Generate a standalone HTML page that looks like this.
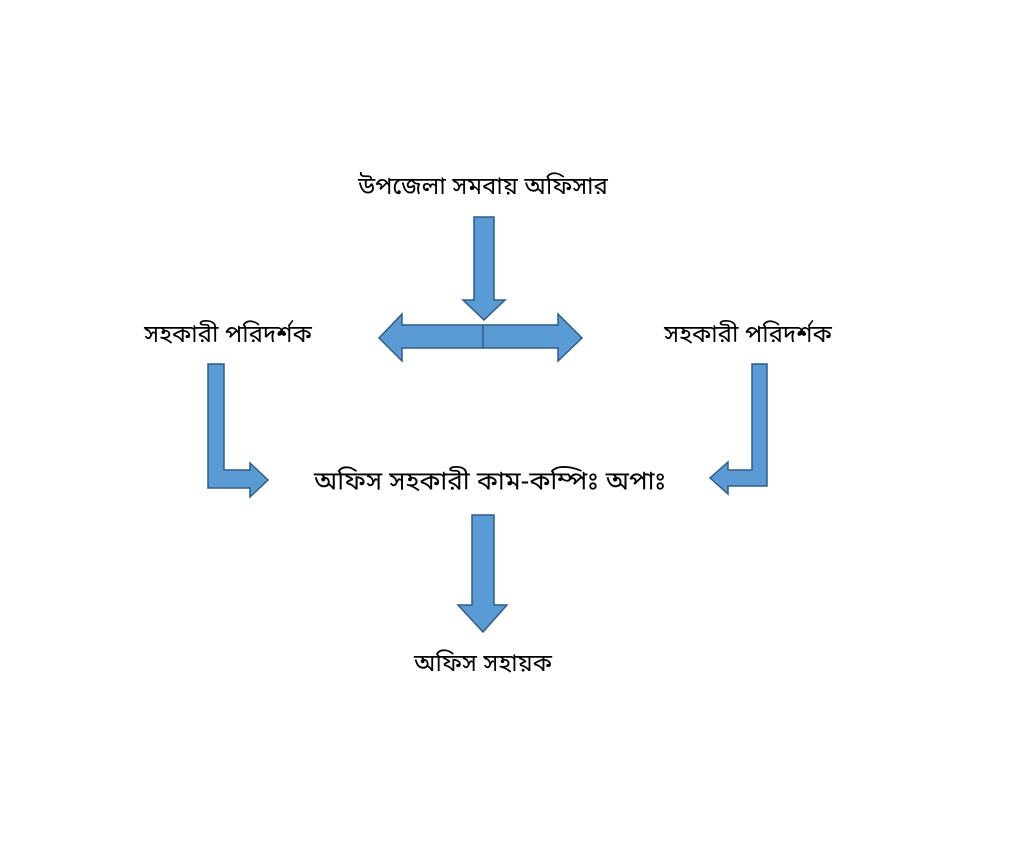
<!DOCTYPE html>
<html><head><meta charset="utf-8"><style>
body{margin:0;background:#fff;width:1036px;height:865px;overflow:hidden;position:relative;font-family:"Liberation Sans","Noto Sans Bengali","Lohit Bengali",sans-serif;}
.t{position:absolute;font-size:24px;color:#000;white-space:nowrap;transform:translate(-50%,-50%);}
svg{position:absolute;left:0;top:0}
</style></head><body>
<svg width="1036" height="865">
<g fill="#5b9bd5" stroke="#2e5d8a" stroke-width="1.5" stroke-linejoin="miter">
<polygon points="474,217 494,217 494,300 505,300 484,320 463,300 474,300"/>
<polygon points="379,338 402,314 402,325 558,325 558,314 582,338 558,361 558,348 402,348 402,361"/>
<line x1="483" y1="325" x2="483" y2="348"/>
<polygon points="208,364 224,364 224,470 250,470 250,463 268,480 250,497 250,488 208,488"/>
<polygon points="752,364 767,364 767,486 728,486 728,494 710,478 728,462 728,470 752,470"/>
<polygon points="472,515 494,515 494,605 507,605 483,632 458,605 472,605"/>
</g>
</svg>
<div class="t" style="left:483px;top:188px">উপজেলা সমবায় অফিসার</div>
<div class="t" style="left:228px;top:336px">সহকারী পরিদর্শক</div>
<div class="t" style="left:748px;top:336px">সহকারী পরিদর্শক</div>
<div class="t" style="left:490px;top:483px;font-size:26px">অফিস সহকারী কাম-কম্পিঃ অপাঃ</div>
<div class="t" style="left:483px;top:665px">অফিস সহায়ক</div>
</body></html>
